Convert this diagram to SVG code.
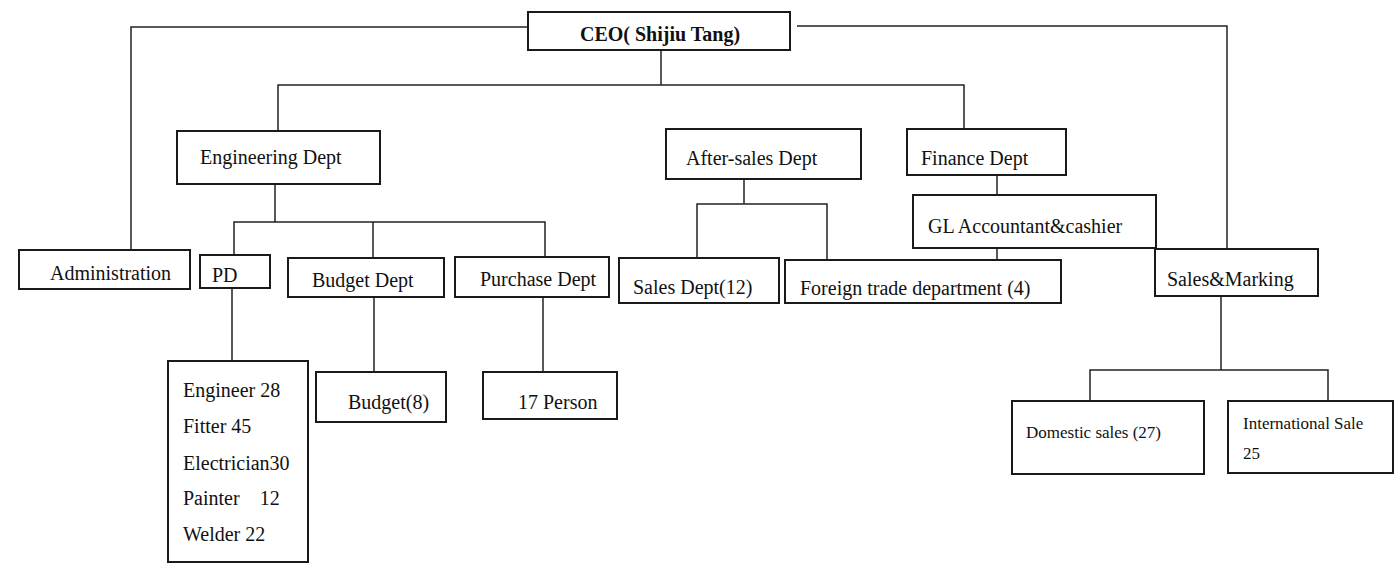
<svg xmlns="http://www.w3.org/2000/svg" width="1400" height="572" viewBox="0 0 1400 572">
<style>
.box{fill:#fff;stroke:#1a1a1a;stroke-width:2}
.t{font-family:"Liberation Serif","Times New Roman",serif;font-size:20px;fill:#111}
.s{font-size:17px}
.b{font-weight:bold}
.c{fill:none;stroke:#222;stroke-width:1.5}
</style>
<rect width="1400" height="572" fill="#fff"/>
<g id="connectors" class="c">
<polyline points="528,27 131,27 131,250"/>
<polyline points="797,26 1227,26 1227,249"/>
<line x1="661" y1="50" x2="661" y2="85"/>
<polyline points="278,131 278,85 964,85 964,129"/>
<line x1="275" y1="184" x2="275" y2="222"/>
<polyline points="234,255 234,222 545,222 545,257"/>
<line x1="373" y1="222" x2="373" y2="258"/>
<line x1="744" y1="179" x2="744" y2="204"/>
<polyline points="697,258 697,204 827,204 827,260"/>
<line x1="997" y1="175" x2="997" y2="195"/>
<line x1="997" y1="248" x2="997" y2="260"/>
<line x1="1221" y1="296" x2="1221" y2="370"/>
<polyline points="1090,401 1090,370 1328,370 1328,401"/>
<line x1="232" y1="288" x2="232" y2="361"/>
<line x1="374" y1="297" x2="374" y2="372"/>
<line x1="543" y1="297" x2="543" y2="372"/>
</g>
<g id="ceo"><rect class="box" x="528" y="12" width="262" height="38"/><text class="t b" x="580" y="41">CEO( Shijiu Tang)</text></g>
<g id="engineering"><rect class="box" x="177" y="131" width="203" height="53"/><text class="t" x="200" y="164">Engineering Dept</text></g>
<g id="aftersales"><rect class="box" x="666" y="129" width="195" height="50"/><text class="t" x="686" y="165">After-sales Dept</text></g>
<g id="finance"><rect class="box" x="907" y="129" width="159" height="46"/><text class="t" x="921" y="165">Finance Dept</text></g>
<g id="administration"><rect class="box" x="19" y="250" width="171" height="39"/><text class="t" x="50" y="280">Administration</text></g>
<g id="pd"><rect class="box" x="200" y="255" width="70" height="33"/><text class="t" x="212" y="282">PD</text></g>
<g id="budgetdept"><rect class="box" x="288" y="258" width="156" height="39"/><text class="t" x="312" y="287">Budget Dept</text></g>
<g id="purchase"><rect class="box" x="455" y="257" width="154" height="40"/><text class="t" x="480" y="286">Purchase Dept</text></g>
<g id="salesdept"><rect class="box" x="619" y="258" width="160" height="45"/><text class="t" x="633" y="294">Sales Dept(12)</text></g>
<g id="foreign"><rect class="box" x="785" y="260" width="276" height="43"/><text class="t" x="800" y="295">Foreign trade department (4)</text></g>
<g id="gl"><rect class="box" x="913" y="195" width="243" height="53"/><text class="t" x="928" y="233">GL Accountant&amp;cashier</text></g>
<g id="salesmarking"><rect class="box" x="1155" y="249" width="163" height="47"/><text class="t" x="1167" y="286">Sales&amp;Marking</text></g>
<g id="domestic"><rect class="box" x="1012" y="401" width="192" height="73"/><text class="t s" x="1026" y="438">Domestic sales (27)</text></g>
<g id="international"><rect class="box" x="1228" y="401" width="165" height="72"/><text class="t s" x="1243" y="429">International Sale</text><text class="t s" x="1243" y="459">25</text></g>
<g id="staff"><rect class="box" x="168" y="361" width="140" height="201"/>
<text class="t" x="183" y="397">Engineer 28</text>
<text class="t" x="183" y="433">Fitter 45</text>
<text class="t" x="183" y="470">Electrician30</text>
<text class="t" x="183" y="505" xml:space="preserve">Painter    12</text>
<text class="t" x="183" y="541">Welder 22</text>
</g>
<g id="budget8"><rect class="box" x="316" y="372" width="130" height="50"/><text class="t" x="348" y="409">Budget(8)</text></g>
<g id="person17"><rect class="box" x="483" y="372" width="134" height="47"/><text class="t" x="518" y="409">17 Person</text></g>
</svg>
